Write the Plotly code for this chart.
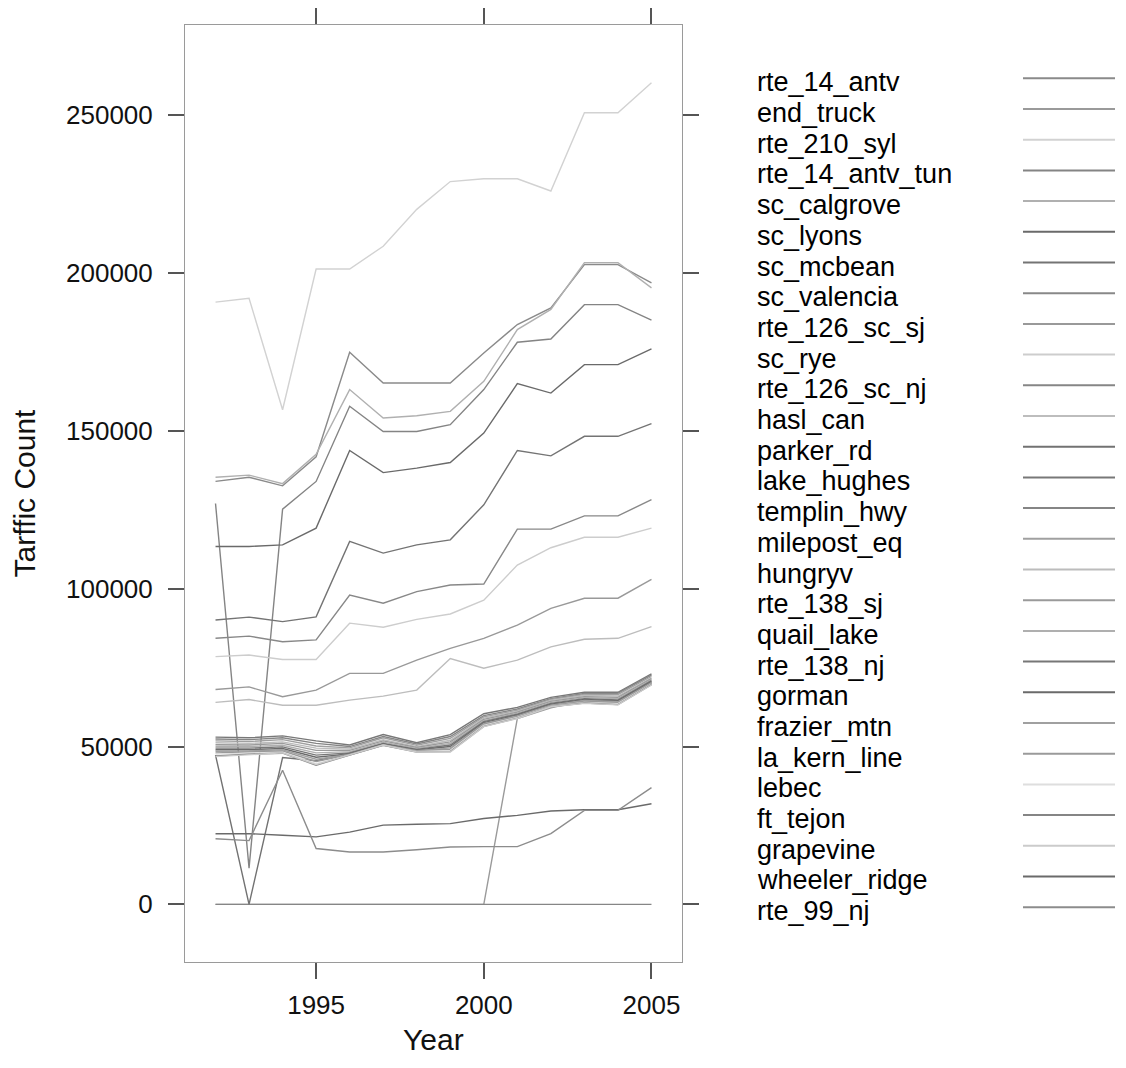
import plotly.graph_objects as go

years = list(range(1992, 2006))

names = ["rte_14_antv", "end_truck", "rte_210_syl", "rte_14_antv_tun", "sc_calgrove",
         "sc_lyons", "sc_mcbean", "sc_valencia", "rte_126_sc_sj", "sc_rye",
         "rte_126_sc_nj", "hasl_can", "parker_rd", "lake_hughes", "templin_hwy",
         "milepost_eq", "hungryv", "rte_138_sj", "quail_lake", "rte_138_nj",
         "gorman", "frazier_mtn", "la_kern_line", "lebec", "ft_tejon",
         "grapevine", "wheeler_ridge", "rte_99_nj"]

colors = ["#8a8a8a", "#9a9a9a", "#d2d2d2", "#848484", "#b0b0b0",
          "#6a6a6a", "#747474", "#888888", "#999999", "#cdcdcd",
          "#868686", "#bdbdbd", "#727272", "#787878", "#858585",
          "#a0a0a0", "#bcbcbc", "#9a9a9a", "#afafaf", "#777777",
          "#6a6a6a", "#a0a0a0", "#9a9a9a", "#dedede", "#858585",
          "#cbcbcb", "#6a6a6a", "#8c8c8c"]

rte_14_antv     = [134000, 135300, 132600, 141800, 174900, 165200, 165200, 165200, 174700, 183700, 189000, 202700, 202700, 196900]
end_truck       = [0, 0, 0, 0, 0, 0, 0, 0, 0, 58900, 62300, 64600, 64500, 70600]
rte_210_syl     = [190800, 192000, 156700, 201300, 201300, 208500, 220200, 229000, 229900, 229900, 226000, 250800, 250800, 260300]
rte_14_antv_tun = [127000, 11500, 125200, 134000, 157800, 149800, 149800, 152000, 163100, 178100, 179100, 190000, 190000, 185100]
sc_calgrove     = [135300, 136000, 133300, 142600, 163100, 154100, 154800, 156200, 165700, 182100, 188500, 203300, 203300, 195300]
sc_lyons        = [113400, 113400, 113900, 119200, 143800, 136800, 138200, 140000, 149300, 165000, 162000, 171000, 171000, 176000]
sc_mcbean       = [90100, 91000, 89600, 91100, 115000, 111300, 113900, 115500, 126600, 143800, 142100, 148300, 148300, 152300]
sc_valencia     = [84300, 85000, 83200, 83800, 98000, 95400, 99100, 101200, 101500, 118900, 118900, 123100, 123100, 128200]
rte_126_sc_sj   = [68100, 68900, 65800, 67900, 73200, 73200, 77400, 81100, 84300, 88500, 93800, 97000, 97000, 103000]
sc_rye          = [78500, 79000, 77600, 77600, 89100, 87800, 90300, 92000, 96400, 107500, 113000, 116300, 116300, 119200]
rte_126_sc_nj   = [0, 0, 0, 0, 0, 0, 0, 0, 0, 0, 0, 0, 0, 0]
hasl_can        = [64000, 64900, 63100, 63100, 64700, 66000, 67900, 77900, 74800, 77400, 81600, 84000, 84300, 88000]
parker_rd       = [47300, 0, 46500, 45500, 48000, 50800, 48800, 49000, 57000, 59500, 63000, 64200, 64000, 70000]
lake_hughes     = [53000, 52800, 53400, 51800, 50500, 53800, 51200, 53800, 60400, 62400, 65600, 67200, 67200, 73000]
templin_hwy     = [52400, 52200, 52800, 51000, 50000, 53200, 50800, 53200, 59800, 61900, 65200, 66800, 66900, 72600]
milepost_eq     = [51800, 51600, 52200, 50200, 49600, 52800, 50400, 52600, 59400, 61500, 64900, 66500, 66500, 72200]
hungryv         = [51200, 51000, 51500, 49500, 49200, 52200, 50000, 52000, 59000, 61200, 64600, 66200, 66000, 71800]
rte_138_sj      = [50600, 50500, 51000, 48800, 48800, 51800, 49700, 51500, 58600, 60900, 64300, 65800, 65600, 71500]
quail_lake      = [50000, 50000, 50400, 48000, 48400, 51400, 49400, 51000, 58200, 60600, 64000, 65500, 65200, 71200]
rte_138_nj      = [49500, 49500, 49900, 47300, 48000, 51000, 49100, 50500, 57900, 60300, 63700, 65200, 64800, 70900]
gorman          = [49000, 49000, 49400, 46600, 47700, 50800, 48900, 50000, 57600, 60000, 63400, 64900, 64500, 70600]
frazier_mtn     = [48500, 48600, 49000, 46000, 47500, 50600, 48700, 49600, 57300, 59700, 63100, 64600, 64200, 70300]
la_kern_line    = [48000, 48200, 48600, 45300, 47400, 50500, 48500, 49200, 57000, 59400, 62900, 64300, 63900, 70000]
lebec           = [47600, 47900, 48200, 44600, 47300, 50400, 48400, 48800, 56700, 59200, 62700, 64000, 63600, 69800]
ft_tejon        = [47000, 47600, 47900, 44100, 47300, 50400, 48300, 48400, 56400, 59000, 62600, 63800, 63300, 69600]
grapevine       = [46800, 47500, 48000, 44300, 47400, 50500, 48300, 48300, 56300, 58900, 62600, 63700, 63200, 69500]
wheeler_ridge   = [22400, 22400, 21900, 21400, 22900, 25100, 25400, 25600, 27200, 28200, 29600, 30000, 30000, 31900]
rte_99_nj       = [20800, 20200, 42500, 17700, 16600, 16600, 17300, 18200, 18300, 18300, 22400, 29800, 29800, 37000]

series = [rte_14_antv, end_truck, rte_210_syl, rte_14_antv_tun, sc_calgrove,
          sc_lyons, sc_mcbean, sc_valencia, rte_126_sc_sj, sc_rye,
          rte_126_sc_nj, hasl_can, parker_rd, lake_hughes, templin_hwy,
          milepost_eq, hungryv, rte_138_sj, quail_lake, rte_138_nj,
          gorman, frazier_mtn, la_kern_line, lebec, ft_tejon,
          grapevine, wheeler_ridge, rte_99_nj]

x_ticks = [1995, 2000, 2005]
y_ticks = [0, 50000, 100000, 150000, 200000, 250000]
x_title = "Year"
y_title = "Tarffic Count"

# page body has an 8px default margin; work in page pixels minus that offset
OFF = 8
W, H = 1126 - 2 * OFF, 1068 - 2 * OFF
L, R, T, B = 185 - OFF, 682 - OFF, 25 - OFF, 962 - OFF
FONT = "Liberation Sans, Arial, Helvetica, sans-serif"

fig = go.Figure()
for name, col, vals in zip(names, colors, series):
    fig.add_trace(go.Scatter(x=years, y=vals, mode="lines", name=name,
                             line=dict(color=col, width=1.4), showlegend=False))

def px_x(p):
    return (p - OFF - L) / (R - L)

def px_y(p):
    return (B - (p - OFF)) / (B - T)

shapes = []
annotations = []
row0, step = 78.3, 30.7
for i, (name, col) in enumerate(zip(names, colors)):
    yy = row0 + i * step
    shapes.append(dict(type="line", xref="paper", yref="paper",
                       x0=px_x(1023), x1=px_x(1115), y0=px_y(yy), y1=px_y(yy),
                       line=dict(color=col, width=2)))
    annotations.append(dict(xref="paper", yref="paper", x=px_x(755), y=px_y(yy + 4),
                            xanchor="left", yanchor="middle", showarrow=False,
                            text=name, font=dict(family=FONT, size=27, color="#000")))

# x-axis title placed explicitly, kept fully inside the figure
annotations.append(dict(xref="paper", yref="paper", x=0.5, y=px_y(1058),
                        xanchor="center", yanchor="bottom", showarrow=False,
                        text=x_title, font=dict(family=FONT, size=30, color="#111")))

axis_common = dict(showline=True, linecolor="#9a9a9a", linewidth=1, mirror="ticks",
                   ticks="outside", ticklen=16, tickwidth=1.5, tickcolor="#555555",
                   showgrid=False, zeroline=False, automargin=False,
                   tickfont=dict(family=FONT, size=26, color="#111"))

fig.update_layout(
    width=W, height=H,
    margin=dict(l=L, r=W - R, t=T, b=H - B, pad=0, autoexpand=False),
    paper_bgcolor="white", plot_bgcolor="white",
    xaxis=dict(range=[1991.09, 2005.91], tickvals=x_ticks, ticktext=[str(v) for v in x_ticks],
               ticklabelstandoff=4, **axis_common),
    yaxis=dict(range=[-18250, 278600], tickvals=y_ticks, tickformat="d",
               ticklabelstandoff=10,
               title=dict(text=y_title, font=dict(family=FONT, size=30, color="#111"), standoff=24),
               **axis_common),
    shapes=shapes, annotations=annotations,
    showlegend=False,
)

fig.write_html("out.html")
